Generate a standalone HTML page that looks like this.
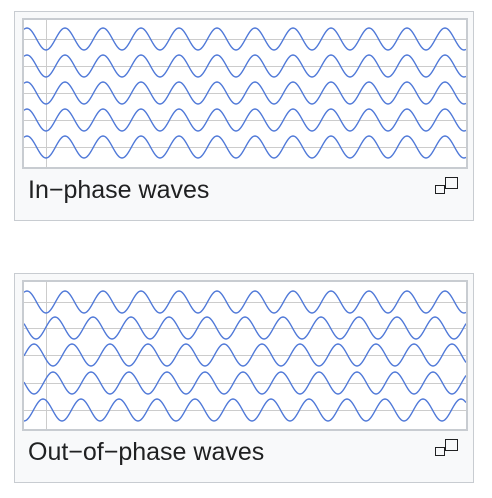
<!DOCTYPE html>
<html><head><meta charset="utf-8">
<style>
body{margin:0;width:492px;height:498px;background:#fff;position:relative;overflow:hidden;font-family:"Liberation Sans",sans-serif}
.panel{position:absolute;left:14px;width:460px;height:210px;border:1px solid #c8ccd1;background:#f8f9fa;box-sizing:border-box}
.plot{position:absolute;left:7px;top:6px;width:446px;height:151px;border:2px solid #c8ccd1;background:#fff;box-sizing:border-box}
.cap{position:absolute;left:13px;font-size:25px;color:#202122}
.icon{position:absolute;left:420px;top:165px}
</style></head><body>
<div class="panel" style="top:11px">
 <div class="plot"><svg id="s1" width="442" height="147"></svg></div>
 <div class="cap" style="top:164px">In−phase waves</div>
 <svg class="icon" width="24" height="18"><rect x="10.5" y="0.5" width="12" height="11" fill="none" stroke="#202122"/><rect x="0.5" y="8.5" width="9" height="8" fill="#f8f9fa" stroke="#202122"/></svg>
</div>
<div class="panel" style="top:273px">
 <div class="plot"><svg id="s2" width="442" height="147"></svg></div>
 <div class="cap" style="top:164px">Out−of−phase waves</div>
 <svg class="icon" width="24" height="18"><rect x="10.5" y="0.5" width="12" height="11" fill="none" stroke="#202122"/><rect x="0.5" y="8.5" width="9" height="8" fill="#f8f9fa" stroke="#202122"/></svg>
</div>
<script>
// page x of wave trough positions (phase), per wave
const inPhaseTroughs=[45,45,45,45,45];
const outPhaseTroughs=[45,35,52,33,23];
const inBaselines=[38,65,92,119,146];
const outBaselines=[301,327,354,382,409];
const period=38, amp=11;
function draw(id,troughs,bases,originX,originY){
  const svg=document.getElementById(id);
  const NS='http://www.w3.org/2000/svg';
  const xs=v=>v-originX, ys=v=>v-originY;
  bases.forEach(b=>{
    const l=document.createElementNS(NS,'line');
    
    
    l.setAttribute('x1',0);l.setAttribute('x2',442);l.setAttribute('y1',ys(b)+0.5);l.setAttribute('y2',ys(b)+0.5);
    l.setAttribute('stroke','#ccc');svg.appendChild(l);
  });
  const v=document.createElementNS(NS,'line');
  
  
  v.setAttribute('x1',xs(45)+0.5);v.setAttribute('x2',xs(45)+0.5);v.setAttribute('y1',0);v.setAttribute('y2',147);
  v.setAttribute('stroke','#ccc');svg.appendChild(v);
  troughs.forEach((t,i)=>{
    let d='';
    for(let x=originX;x<=originX+442;x+=1){
      const y=bases[i]+amp*Math.cos(2*Math.PI*(x-t)/period);
      d+=(d?'L':'M')+xs(x)+' '+ys(y).toFixed(2);
    }
    const p=document.createElementNS(NS,'path');
    
    
    p.setAttribute('d',d);p.setAttribute('fill','none');p.setAttribute('stroke','#5079d8');p.setAttribute('stroke-width','1.4');
    svg.appendChild(p);
  });
}
draw('s1',inPhaseTroughs,inBaselines,23,19);
draw('s2',outPhaseTroughs,outBaselines,23,281);
</script>
</body></html>
